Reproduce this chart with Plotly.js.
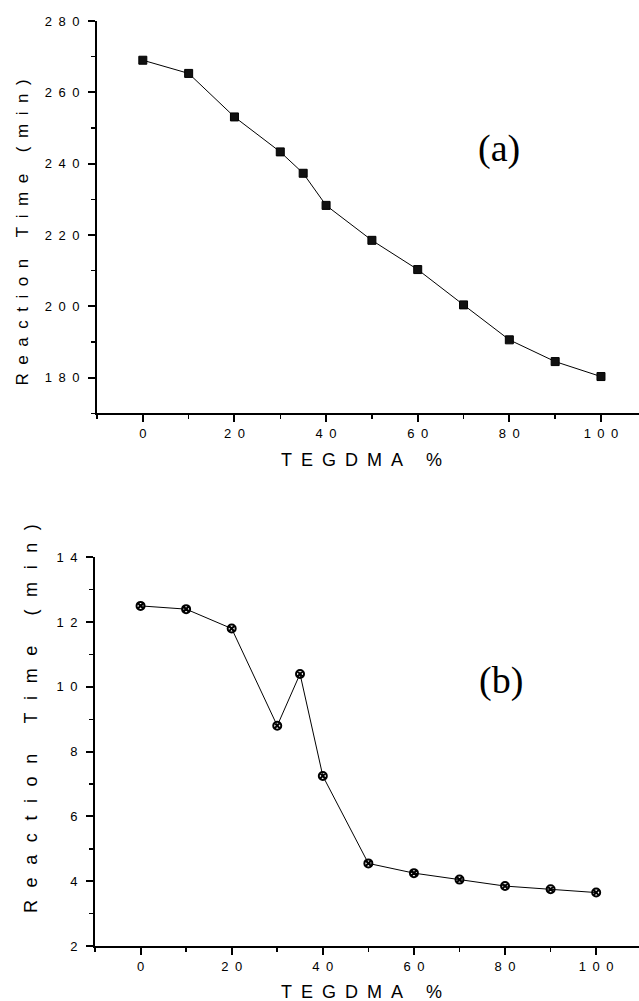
<!DOCTYPE html>
<html>
<head>
<meta charset="utf-8">
<script src="https://cdn.plot.ly/plotly-3.0.1.min.js"></script>
<style>html,body{margin:0;padding:0;background:#fff;overflow:hidden;}#chart{width:639px;height:1001px;}</style>
</head>
<body>
<div id="chart"></div>
<script>
// Data
const tegdmaPct = [0, 10, 20, 30, 35, 40, 50, 60, 70, 80, 90, 100];
const reactionTimeA = [269, 265.3, 253.1, 243.3, 237.3, 228.3, 218.5, 210.3, 200.4, 190.6, 184.5, 180.3];
const reactionTimeB = [12.5, 12.4, 11.8, 8.8, 10.4, 7.25, 4.55, 4.25, 4.05, 3.85, 3.75, 3.65];
const xTickVals = [0, 20, 40, 60, 80, 100];
const yTickValsA = [180, 200, 220, 240, 260, 280];
const yTickValsB = [2, 4, 6, 8, 10, 12, 14];
const yTitleText = 'Reaction Time (min)';
const xTitleText = 'TEGDMA %';
const panelLabels = ['(a)', '(b)'];

function spaceDigits(v) { return String(v).split('').join('\u2002'); }
function spaceTitle(s, gap) {
  return s.split('').map(c => c === ' ' ? ' ' : c).join(gap);
}

const tickFont = {family: 'Liberation Sans, Arial, sans-serif', size: 13, color: '#000'};

function xAxis(domain, range, anchor) {
  return {
    domain: domain, range: range, anchor: anchor,
    showline: true, linecolor: '#000', linewidth: 2,
    ticks: 'outside', ticklen: 7, tickwidth: 2, tickcolor: '#000',
    tickmode: 'array', tickvals: xTickVals, ticktext: xTickVals.map(spaceDigits),
    tickfont: tickFont, ticklabelstandoff: 0,
    minor: {ticks: 'outside', dtick: 10, tick0: 0, ticklen: 4, tickwidth: 1.5, tickcolor: '#000'},
    showgrid: false, zeroline: false, fixedrange: true
  };
}
function yAxis(domain, range, anchor, vals, minorDtick, minorTick0) {
  return {
    domain: domain, range: range, anchor: anchor,
    showline: true, linecolor: '#000', linewidth: 2,
    ticks: 'outside', ticklen: 7, tickwidth: 2, tickcolor: '#000',
    tickmode: 'array', tickvals: vals, ticktext: vals.map(spaceDigits),
    tickfont: tickFont, ticklabelstandoff: 6,
    minor: {ticks: 'outside', dtick: minorDtick, tick0: minorTick0, ticklen: 4, tickwidth: 1.5, tickcolor: '#000'},
    showgrid: false, zeroline: false, fixedrange: true
  };
}

const traces = [
  {
    x: tegdmaPct, y: reactionTimeA, xaxis: 'x', yaxis: 'y',
    type: 'scatter', mode: 'lines+markers',
    line: {color: '#000', width: 1},
    marker: {symbol: 'square', size: 8, color: '#111', line: {color: '#000', width: 1}},
    showlegend: false
  },
  {
    x: tegdmaPct, y: reactionTimeB, xaxis: 'x2', yaxis: 'y2',
    type: 'scatter', mode: 'lines+markers',
    line: {color: '#000', width: 1},
    marker: {symbol: 'circle-x-open', size: 8, color: '#000', line: {color: '#000', width: 2}},
    showlegend: false
  }
];

const titleFont = {family: 'Liberation Sans, Arial, sans-serif', size: 17, color: '#000'};
const titleFontB = {family: 'Liberation Sans, Arial, sans-serif', size: 18, color: '#000'};
const labelFont = {family: 'Liberation Serif, Times New Roman, serif', size: 38, color: '#000'};

const layout = {
  width: 639, height: 1001,
  margin: {l: 95, r: 0, t: 21, b: 55},
  paper_bgcolor: '#fff', plot_bgcolor: '#fff',
  showlegend: false,
  xaxis: xAxis([0.0037, 1], [-10, 108.3], 'y'),
  yaxis: yAxis([0.5759, 1], [170, 280], 'x', yTickValsA, 10, 170),
  xaxis2: xAxis([0, 1], [-10, 109.4], 'y2'),
  yaxis2: yAxis([0, 0.4202], [2, 14], 'x2', yTickValsB, 1, 2),
  annotations: [
    {xref: 'paper', yref: 'paper', x: -0.1342, y: 0.7714, xanchor: 'center', yanchor: 'middle',
     text: spaceTitle(yTitleText, '\u2002'), textangle: -90, showarrow: false, font: titleFont},
    {xref: 'paper', yref: 'paper', x: -0.1176, y: 0.2454, xanchor: 'center', yanchor: 'middle',
     text: spaceTitle(yTitleText, '\u2002\u2009'), textangle: -90, showarrow: false, font: titleFontB},
    {xref: 'paper', yref: 'paper', x: 0.489, y: 0.5254, xanchor: 'center', yanchor: 'middle',
     text: spaceTitle(xTitleText, '\u2002'), showarrow: false, font: titleFontB},
    {xref: 'paper', yref: 'paper', x: 0.489, y: -0.0497, xanchor: 'center', yanchor: 'middle',
     text: spaceTitle(xTitleText, '\u2002'), showarrow: false, font: titleFontB},
    {xref: 'paper', yref: 'paper', x: 0.7426, y: 0.8627, xanchor: 'center', yanchor: 'middle',
     text: panelLabels[0], showarrow: false, font: labelFont},
    {xref: 'paper', yref: 'paper', x: 0.7463, y: 0.2865, xanchor: 'center', yanchor: 'middle',
     text: panelLabels[1], showarrow: false, font: labelFont}
  ]
};

Plotly.newPlot('chart', traces, layout, {displayModeBar: false, staticPlot: true});
</script>
</body>
</html>
